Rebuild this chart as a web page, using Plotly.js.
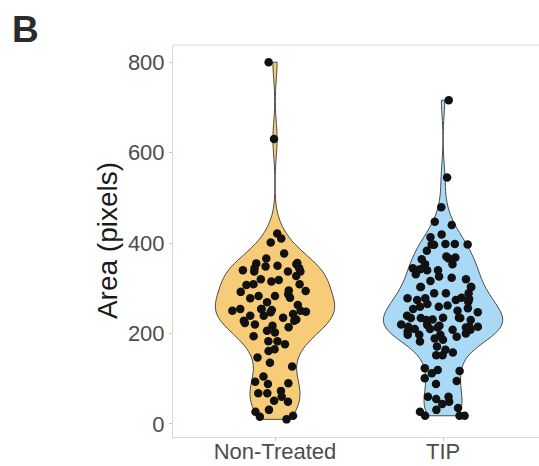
<!DOCTYPE html>
<html>
<head>
<meta charset="utf-8">
<script src="https://cdn.plot.ly/plotly-3.0.1.min.js"></script>
<style>html,body{margin:0;padding:0;background:#fff;}#chart{width:539px;height:466px;}</style>
</head>
<body>
<div id="chart"></div>
<script>
const categories = ["Non-Treated", "TIP"];

const nonTreated = [800, 630, 421, 410, 401, 377, 366, 356, 348, 353, 350, 355, 344, 337, 344, 337, 340, 337,
  327, 320, 315, 318, 307, 309, 309, 292, 294, 295, 287, 283, 283, 279, 278, 269, 263, 254, 254, 250, 252,
  243, 250, 247, 254, 248, 231, 239, 235, 228, 239, 223, 228, 220, 214, 217, 206, 202, 194, 183, 183, 176,
  165, 161, 147, 135, 127, 105, 93, 88, 90, 68, 73, 68, 60, 51, 49, 31, 27, 18, 10, 16];

const tip = [716, 545, 479, 447, 440, 419, 413, 396, 398, 397, 397, 398, 383, 370, 366, 364, 368,
  353, 344, 340, 340, 353, 340, 342, 326, 320, 316, 331, 323,
  303, 303, 303, 303, 289, 289, 289, 279, 278, 278, 276, 274, 270, 274, 259, 259, 265, 262, 256, 250,
  247, 254, 239, 235, 230, 234, 230, 234, 231, 235, 234, 219, 220, 215, 213, 213, 210, 215, 217, 215,
  210, 208, 204, 208, 197, 193, 189, 186, 197, 200, 197, 182,
  171, 164, 152, 152, 158, 123, 117, 112, 119, 101, 88, 95, 60, 60, 55, 49, 44, 35, 31, 18, 18, 18, 27];

const fills = ["#F6CC79", "#A9D9F4"];
const bandwidths = [38, 34];
const series = [nonTreated, tip];

const traces = series.map((vals, i) => ({
  type: "violin",
  x: vals.map(() => categories[i]),
  y: vals,
  name: categories[i],
  fillcolor: fills[i],
  line: {color: "#3a3a3a", width: 0.9},
  opacity: 1,
  points: "all",
  pointpos: 0,
  jitter: 0.85,
  marker: {color: "#111111", size: 8.5, line: {width: 0}},
  spanmode: "hard",
  bandwidth: bandwidths[i],
  width: 0.71,
  scalemode: "width",
  box: {visible: false},
  meanline: {visible: false},
  showlegend: false,
  hoverinfo: "y"
}));

const layout = {
  width: 539, height: 466,
  margin: {l: 173, r: 0, t: 45, b: 29},
  paper_bgcolor: "#ffffff", plot_bgcolor: "#ffffff",
  font: {family: "Liberation Sans, Arial, sans-serif"},
  showlegend: false,
  xaxis: {
    type: "category",
    categoryorder: "array", categoryarray: categories,
    range: [-0.607, 1.571],
    showgrid: false, zeroline: false,
    showline: true, linecolor: "#d9d9d9", linewidth: 1,
    ticks: "outside", ticklen: 3, tickcolor: "#cccccc", tickwidth: 1,
    ticklabelstandoff: -8,
    tickfont: {size: 22, color: "#4d4d4d"},
    automargin: false
  },
  yaxis: {
    range: [-29, 838],
    tickvals: [0, 200, 400, 600, 800],
    showgrid: false, zeroline: false,
    showline: true, linecolor: "#d9d9d9", linewidth: 1,
    ticks: "outside", ticklen: 3, tickcolor: "#cccccc", tickwidth: 1,
    tickfont: {size: 22, color: "#4d4d4d"},
    automargin: false
  },
  shapes: [
    {type: "line", xref: "paper", yref: "paper", x0: 0, x1: 1, y0: 1, y1: 1,
     line: {color: "#d9d9d9", width: 1}}
  ],
  annotations: [
    {text: "Area (pixels)", xref: "paper", yref: "paper", x: -0.18, y: 0.5,
     xanchor: "center", yanchor: "middle", textangle: -90, showarrow: false,
     font: {size: 28, color: "#1a1a1a"}},
    {text: "<b>B</b>", xref: "paper", yref: "paper", x: -0.445, y: 1.098,
     xanchor: "left", yanchor: "top", showarrow: false,
     font: {size: 37, color: "#2b2b2b"}}
  ]
};

Plotly.newPlot("chart", traces, layout, {displayModeBar: false, staticPlot: true});
</script>
</body>
</html>
